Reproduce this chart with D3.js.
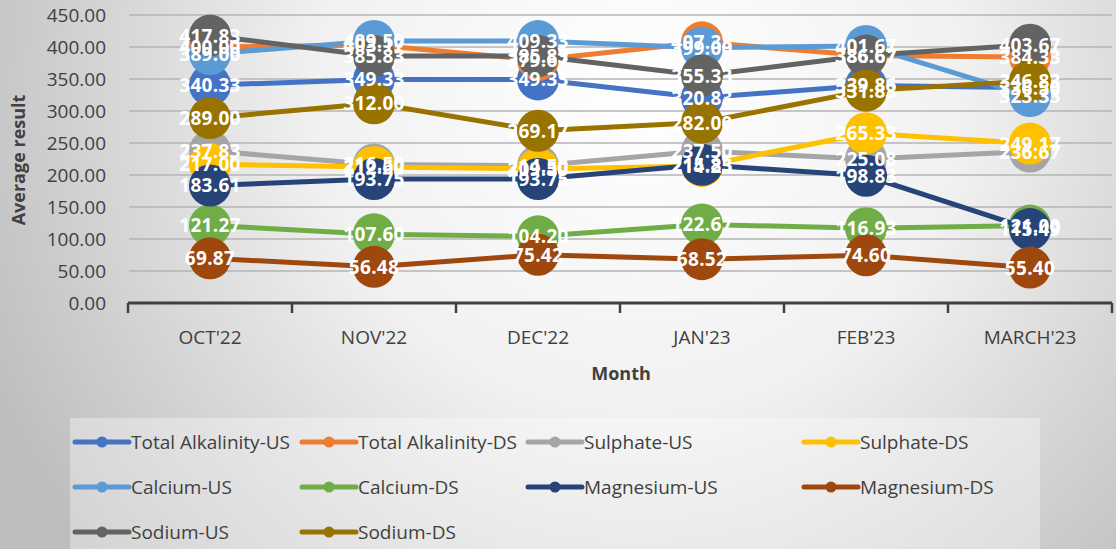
<!DOCTYPE html>
<html>
<head>
<meta charset="utf-8">
<script src="https://cdn.jsdelivr.net/npm/d3@7/dist/d3.min.js"></script>
<style>
  body { margin: 0; }
  text { font-family: "Open Sans", sans-serif; }
</style>
</head>
<body>
<div class="chart"></div>
<script>
var width = 1116, height = 549;

// data
var months = ["OCT'22", "NOV'22", "DEC'22", "JAN'23", "FEB'23", "MARCH'23"];
var alkalinityUS = [340.33, 349.33, 349.33, 320.83, 339.86, 336.50];
var alkalinityDS = [400.00, 403.17, 379.67, 407.33, 386.67, 384.33];
var sulphateUS = [237.83, 216.50, 214.50, 237.50, 225.08, 236.67];
var sulphateDS = [217.00, 212.60, 209.50, 214.25, 265.33, 249.17];
var calciumUS = [389.00, 409.50, 409.33, 399.00, 401.67, 323.33];
var calciumDS = [121.27, 107.60, 104.20, 122.67, 116.93, 121.00];
var magnesiumUS = [183.61, 193.75, 193.75, 215.83, 198.83, 115.49];
var magnesiumDS = [69.87, 56.48, 75.42, 68.52, 74.60, 55.40];
var sodiumUS = [417.83, 385.83, 385.83, 355.33, 386.67, 403.67];
var sodiumDS = [289.00, 312.00, 269.17, 282.00, 331.83, 346.83];
var yTicks = [0, 50, 100, 150, 200, 250, 300, 350, 400, 450];

var series = [
  { name: "Total Alkalinity-US", color: "#4472C4", values: alkalinityUS },
  { name: "Total Alkalinity-DS", color: "#ED7D31", values: alkalinityDS },
  { name: "Sulphate-US", color: "#A5A5A5", values: sulphateUS },
  { name: "Sulphate-DS", color: "#FFC000", values: sulphateDS },
  { name: "Calcium-US", color: "#5B9BD5", values: calciumUS },
  { name: "Calcium-DS", color: "#70AD47", values: calciumDS },
  { name: "Magnesium-US", color: "#264478", values: magnesiumUS },
  { name: "Magnesium-DS", color: "#9E480E", values: magnesiumDS },
  { name: "Sodium-US", color: "#636363", values: sodiumUS },
  { name: "Sodium-DS", color: "#997300", values: sodiumDS }
];

var svg = d3.select('.chart')
  .append('svg')
  .attr('width', width)
  .attr('height', height);

var defs = svg.append('defs');
var bg = defs.append('radialGradient')
  .attr('id', 'bg')
  .attr('gradientUnits', 'userSpaceOnUse')
  .attr('cx', 640).attr('cy', 90).attr('r', 720);
bg.append('stop').attr('offset', 0).attr('stop-color', '#ffffff');
bg.append('stop').attr('offset', 0.45).attr('stop-color', '#f1f1f1');
bg.append('stop').attr('offset', 1).attr('stop-color', '#bdbdbd');

svg.append('rect')
  .attr('width', width).attr('height', height)
  .attr('fill', 'url(#bg)');

var x = d3.scaleBand().domain(months).range([128, 1112]);
var y = d3.scaleLinear().domain([0, 450]).range([303, 15]);
function cx(i) { return x(months[i]) + x.bandwidth() / 2; }

// gridlines
svg.append('g')
  .selectAll('line')
  .data(yTicks.slice(1))
  .enter().append('line')
  .attr('x1', 129).attr('x2', 1112)
  .attr('y1', function(d) { return y(d); })
  .attr('y2', function(d) { return y(d); })
  .attr('stroke', '#b4b4b4')
  .attr('stroke-width', 1.5);

// y tick labels
svg.append('g')
  .selectAll('text')
  .data(yTicks)
  .enter().append('text')
  .attr('x', 106)
  .attr('y', function(d) { return y(d) + 7; })
  .attr('text-anchor', 'end')
  .attr('font-size', 19)
  .attr('fill', '#404040')
  .text(function(d) { return d3.format('.2f')(d); });

// x axis
var xAxis = svg.append('g');
xAxis.append('line')
  .attr('x1', 128).attr('x2', 1112)
  .attr('y1', y(0)).attr('y2', y(0))
  .attr('stroke', '#404040')
  .attr('stroke-width', 3);
xAxis.selectAll('.tick')
  .data(months.concat(['end']))
  .enter().append('line')
  .attr('x1', function(d, i) { return i < months.length ? x(d) : 1112; })
  .attr('x2', function(d, i) { return i < months.length ? x(d) : 1112; })
  .attr('y1', y(0)).attr('y2', y(0) + 10)
  .attr('stroke', '#404040')
  .attr('stroke-width', 2.5);
xAxis.selectAll('text')
  .data(months)
  .enter().append('text')
  .attr('x', function(d, i) { return cx(i); })
  .attr('y', 344)
  .attr('text-anchor', 'middle')
  .attr('font-size', 19)
  .attr('fill', '#404040')
  .text(function(d) { return d; });

// axis titles
svg.append('text')
  .attr('transform', 'translate(25,160) rotate(-90)')
  .attr('text-anchor', 'middle')
  .attr('font-size', 18)
  .attr('font-weight', 700)
  .attr('fill', '#404040')
  .text('Average result');
svg.append('text')
  .attr('x', 621).attr('y', 380)
  .attr('text-anchor', 'middle')
  .attr('font-size', 18)
  .attr('font-weight', 700)
  .attr('fill', '#404040')
  .text('Month');

// lines + markers
var line = d3.line()
  .x(function(d, i) { return cx(i); })
  .y(function(d) { return y(d); });

var groups = svg.append('g')
  .selectAll('.series')
  .data(series)
  .enter().append('g')
  .attr('class', 'series');

groups.append('path')
  .attr('d', function(s) { return line(s.values); })
  .attr('fill', 'none')
  .attr('stroke', function(s) { return s.color; })
  .attr('stroke-width', 5)
  .attr('stroke-linecap', 'round');

groups.selectAll('circle')
  .data(function(s) { return s.values.map(function(v) { return { v: v, c: s.color }; }); })
  .enter().append('circle')
  .attr('cx', function(d, i) { return cx(i); })
  .attr('cy', function(d) { return y(d.v); })
  .attr('r', 21)
  .attr('fill', function(d) { return d.c; });

// data labels on top
var labels = svg.append('g');
series.forEach(function(s) {
  labels.selectAll(null)
    .data(s.values)
    .enter().append('text')
    .attr('x', function(d, i) { return cx(i); })
    .attr('y', function(d) { return y(d) + 7; })
    .attr('text-anchor', 'middle')
    .attr('font-size', 19)
    .attr('font-weight', 700)
    .attr('letter-spacing', 0.3)
    .attr('fill', '#ffffff')
    .text(function(d) { return d3.format('.2f')(d); });
});

// legend
svg.append('rect')
  .attr('x', 70).attr('y', 418)
  .attr('width', 970).attr('height', 131)
  .attr('fill', '#ffffff')
  .attr('opacity', 0.35);

var colX = [75, 302, 528, 804];
var rowY = [442, 487, 532];
var legend = svg.append('g')
  .selectAll('.legend')
  .data(series)
  .enter().append('g')
  .attr('class', 'legend')
  .attr('transform', function(d, i) {
    return 'translate(' + colX[i % 4] + ',' + rowY[Math.floor(i / 4)] + ')';
  });
legend.append('line')
  .attr('x1', 0).attr('x2', 54)
  .attr('stroke', function(d) { return d.color; })
  .attr('stroke-width', 5)
  .attr('stroke-linecap', 'round');
legend.append('circle')
  .attr('cx', 27).attr('r', 5.5)
  .attr('fill', function(d) { return d.color; });
legend.append('text')
  .attr('x', 56).attr('y', 7)
  .attr('font-size', 19)
  .attr('fill', '#404040')
  .text(function(d) { return d.name; });
</script>
</body>
</html>
